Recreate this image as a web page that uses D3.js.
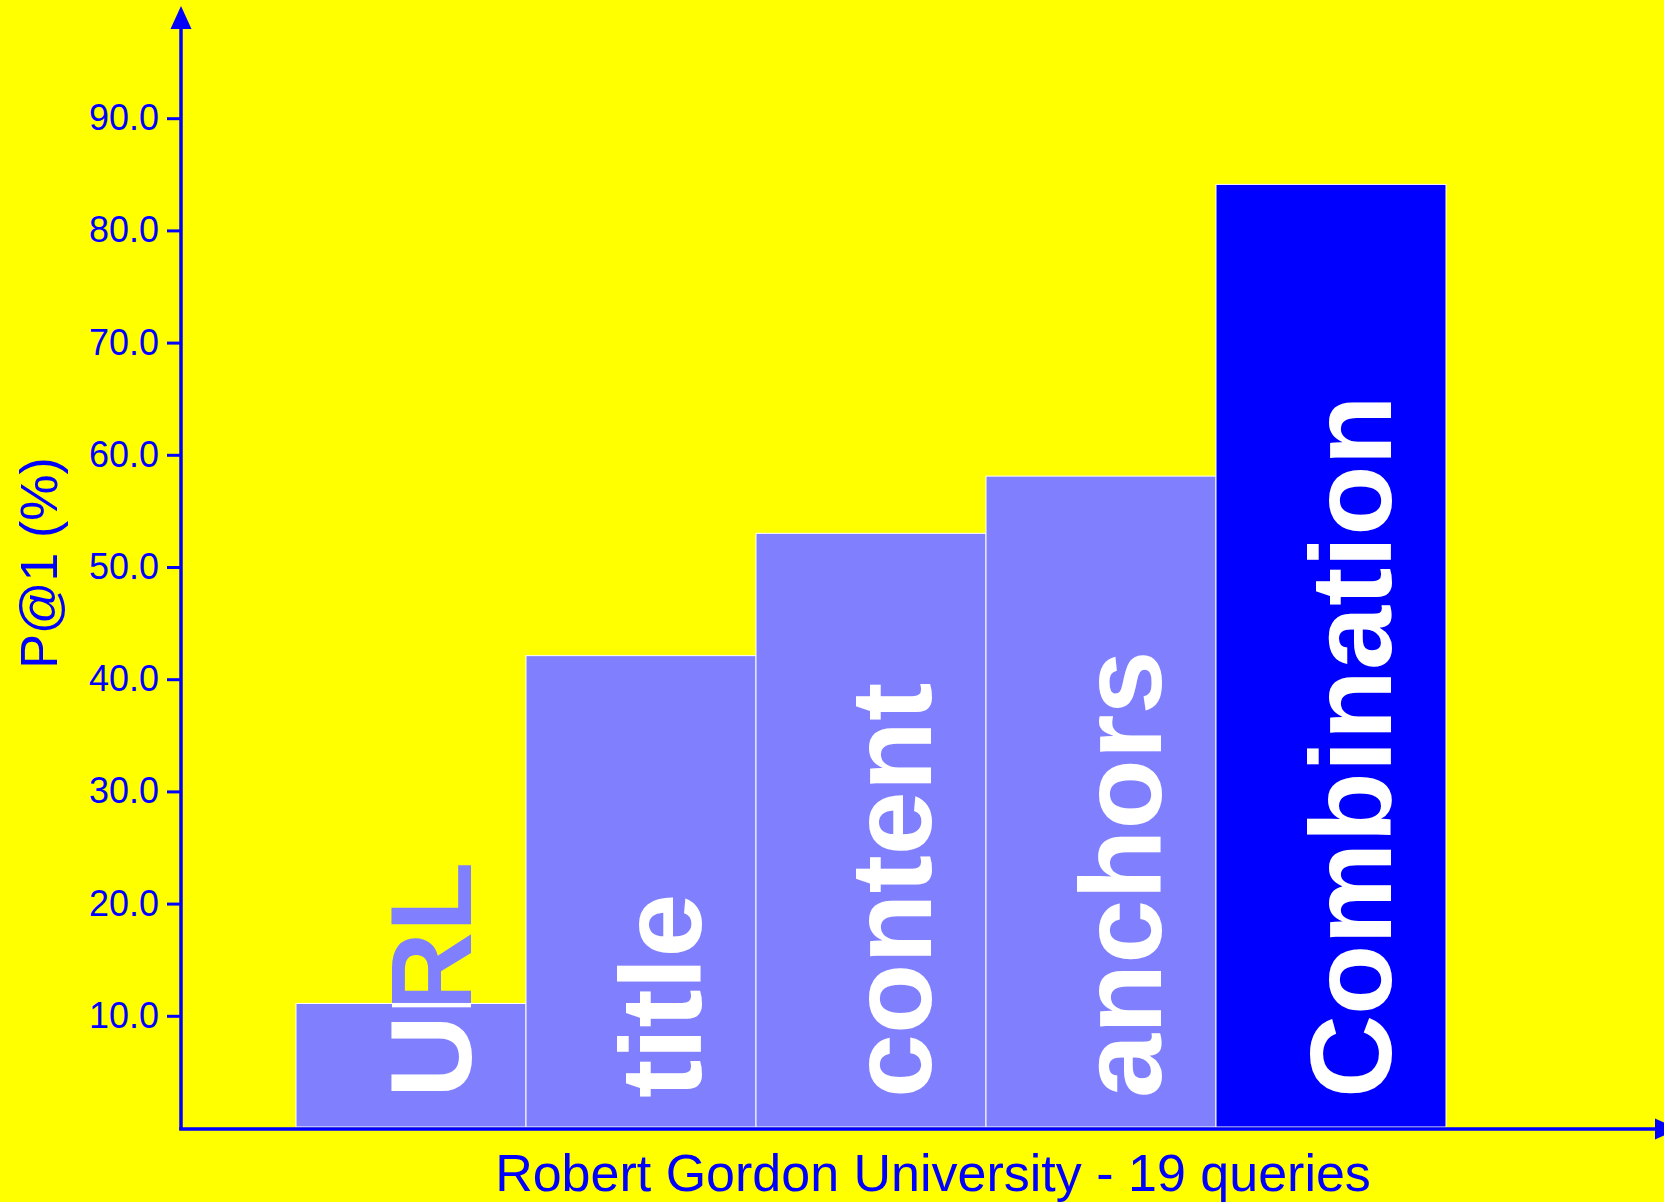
<!DOCTYPE html>
<html>
<head>
<meta charset="utf-8">
<script src="https://cdn.jsdelivr.net/npm/d3@7"></script>
<style>
  html, body { margin: 0; padding: 0; background: #ffff00; }
  svg { display: block; }
  text { font-family: "Liberation Sans", Arial, sans-serif; }
</style>
</head>
<body>
<svg id="chart" width="1664" height="1202"></svg>
<script>
// P@1 per field, Robert Gordon University (19 queries)
const categories = ['URL', 'title', 'content', 'anchors', 'Combination'];
const values = [11.1, 42.1, 53.0, 58.1, 84.1];
const barColors = ['#8080ff', '#8080ff', '#8080ff', '#8080ff', '#0000ff'];
const yTicks = [10, 20, 30, 40, 50, 60, 70, 80, 90];
const yTitle = 'P@1 (%)';
const xTitle = 'Robert Gordon University - 19 queries';

const svg = d3.select('#chart');
const blue = '#0000ff';

const originX = 181;
const originY = 1128;

const y = d3.scaleLinear().domain([0, 100]).range([originY, 6]);
const x = d3.scaleBand().domain(categories).range([296, 1446]).padding(0);

svg.append('rect')
  .attr('width', 1664).attr('height', 1202)
  .attr('fill', '#ffff00');

const defs = svg.append('defs');

// bars
const bars = svg.append('g')
  .selectAll('g')
  .data(categories)
  .enter()
  .append('g');

bars.append('rect')
  .attr('x', (d) => x(d))
  .attr('y', (d, i) => y(values[i]))
  .attr('width', x.bandwidth())
  .attr('height', (d, i) => y(0) - y(values[i]) - 1)
  .attr('fill', (d, i) => barColors[i]);

bars.each(function (d, i) {
  defs.append('clipPath')
    .attr('id', 'clip' + i)
    .append('rect')
    .attr('x', x(d))
    .attr('y', y(values[i]))
    .attr('width', x.bandwidth())
    .attr('height', y(0) - y(values[i]));
});

const labelPos = (d) => `translate(${x(d) + x.bandwidth() / 2 + 60},1098) rotate(-90)`;

// label part sticking out of the bar takes the bar colour
bars.append('text')
  .attr('transform', labelPos)
  .attr('font-size', 115)
  .attr('font-weight', 'bold')
  .attr('fill', (d, i) => barColors[i])
  .text((d) => d);

bars.append('g')
  .attr('clip-path', (d, i) => `url(#clip${i})`)
  .append('text')
  .attr('transform', labelPos)
  .attr('font-size', 115)
  .attr('font-weight', 'bold')
  .attr('fill', '#ffffff')
  .text((d) => d);

bars.append('rect')
  .attr('x', (d) => x(d))
  .attr('y', (d, i) => y(values[i]))
  .attr('width', x.bandwidth())
  .attr('height', (d, i) => y(0) - y(values[i]) - 1)
  .attr('fill', 'none')
  .attr('stroke', '#ffffff')
  .attr('stroke-width', 1);

// y axis ticks
const yAxis = svg.append('g')
  .attr('transform', `translate(${originX},0)`)
  .call(d3.axisLeft(y).tickValues(yTicks).tickFormat(d3.format('.1f')).tickSize(14).tickPadding(8));

yAxis.select('.domain').remove();
yAxis.selectAll('line').attr('stroke', blue).attr('stroke-width', 3);
yAxis.selectAll('text')
  .attr('fill', blue)
  .attr('font-size', 36)
  .style('font-family', '"Liberation Sans", Arial, sans-serif');

// axis lines with arrow heads
const axes = svg.append('g');
axes.append('line')
  .attr('x1', originX).attr('y1', originY + 2)
  .attr('x2', originX).attr('y2', y(100) + 20)
  .attr('stroke', blue).attr('stroke-width', 3.5);
axes.append('path')
  .attr('d', `M${originX},${y(100)} L${originX - 10.5},${y(100) + 23} L${originX + 10.5},${y(100) + 23} Z`)
  .attr('fill', blue);

axes.append('line')
  .attr('x1', originX - 1.75).attr('y1', originY + 1)
  .attr('x2', 1660).attr('y2', originY + 1)
  .attr('stroke', blue).attr('stroke-width', 3.5);
axes.append('path')
  .attr('d', `M1678,${originY + 1} L1655,${originY - 9.5} L1655,${originY + 11.5} Z`)
  .attr('fill', blue);

// titles
svg.append('text')
  .attr('x', 933)
  .attr('y', 1191)
  .attr('text-anchor', 'middle')
  .attr('font-size', 52)
  .attr('fill', blue)
  .text(xTitle);

svg.append('text')
  .attr('transform', 'translate(57,563) rotate(-90)')
  .attr('text-anchor', 'middle')
  .attr('font-size', 52)
  .attr('fill', blue)
  .text(yTitle);
</script>
</body>
</html>
